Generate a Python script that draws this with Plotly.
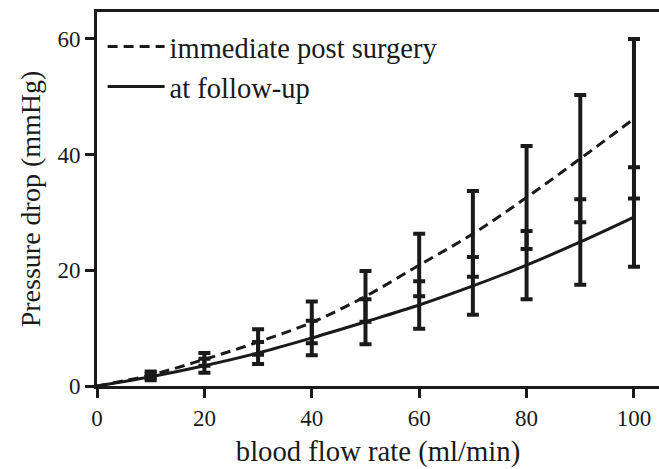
import plotly.graph_objects as go

flow = [0, 10, 20, 30, 40, 50, 60, 70, 80, 90, 100]
post_surgery = [0, 1.9, 4.6, 7.6, 11.0, 15.5, 20.9, 26.3, 32.6, 39.3, 46.2]
follow_up = [0, 1.6, 3.5, 5.7, 8.3, 11.1, 14.0, 17.3, 20.9, 24.9, 29.2]

bar_flow = [10, 20, 30, 40, 50, 60, 70, 80, 90, 100]
post_err = [0.6, 1.1, 2.2, 3.6, 4.4, 5.4, 7.4, 8.9, 11.0, 13.8]
follow_err = [0.6, 1.2, 1.9, 3.0, 3.9, 4.1, 5.0, 5.9, 7.4, 8.6]

x_ticks = [0, 20, 40, 60, 80, 100]
y_ticks = [0, 20, 40, 60]

font_family = "Liberation Serif"
black = "#1a1a1a"

fig = go.Figure()

fig.add_trace(go.Scatter(
    x=bar_flow, y=post_surgery[1:], mode="markers",
    marker=dict(size=1, color="rgba(0,0,0,0)"),
    error_y=dict(type="data", array=post_err, visible=True,
                 color=black, thickness=4, width=6),
    showlegend=False, hoverinfo="skip"))
fig.add_trace(go.Scatter(
    x=bar_flow, y=follow_up[1:], mode="markers",
    marker=dict(size=1, color="rgba(0,0,0,0)"),
    error_y=dict(type="data", array=follow_err, visible=True,
                 color=black, thickness=4, width=6),
    showlegend=False, hoverinfo="skip"))

fig.add_trace(go.Scatter(
    x=flow, y=post_surgery, mode="lines", name="immediate post surgery",
    line=dict(color=black, width=3, dash="10px,6px", shape="spline")))
fig.add_trace(go.Scatter(
    x=flow, y=follow_up, mode="lines", name="at follow-up",
    line=dict(color=black, width=3, shape="spline")))

fig.update_layout(
    width=659, height=469,
    margin=dict(l=97, r=0, t=12, b=83, autoexpand=False),
    paper_bgcolor="white", plot_bgcolor="white",
    font=dict(family=font_family, color=black),
    showlegend=True,
    legend=dict(x=0.01, y=0.975, xanchor="left", yanchor="top",
                bgcolor="rgba(0,0,0,0)",
                font=dict(size=28.5, family=font_family, color=black),
                tracegroupgap=0, itemwidth=57),
    xaxis=dict(range=[0, 104.66], tickvals=x_ticks, ticktext=[str(v) for v in x_ticks],
               showgrid=False, zeroline=False, showline=True, linecolor=black,
               linewidth=3, mirror=True, ticks="outside", ticklen=9, tickwidth=3,
               tickcolor=black, tickfont=dict(size=23, family=font_family),
               automargin=False,
               title=dict(text="blood flow rate (ml/min)", font=dict(size=28.7, family=font_family),
                          standoff=12)),
    yaxis=dict(range=[0, 64.65], tickvals=y_ticks, ticktext=[str(v) for v in y_ticks],
               showgrid=False, zeroline=False, showline=True, linecolor=black,
               linewidth=3, ticks="outside", ticklen=9, tickwidth=3,
               tickcolor=black, tickfont=dict(size=23, family=font_family),
               automargin=False,
               title=dict(text="Pressure drop (mmHg)", font=dict(size=28, family=font_family),
                          standoff=9)),
)

fig.write_html(
    "out.html", config={"displayModeBar": False},
    post_script=("document.body.style.margin='0px';"
                 "document.body.style.overflow='hidden';"
                 "document.documentElement.style.overflow='hidden';"))
